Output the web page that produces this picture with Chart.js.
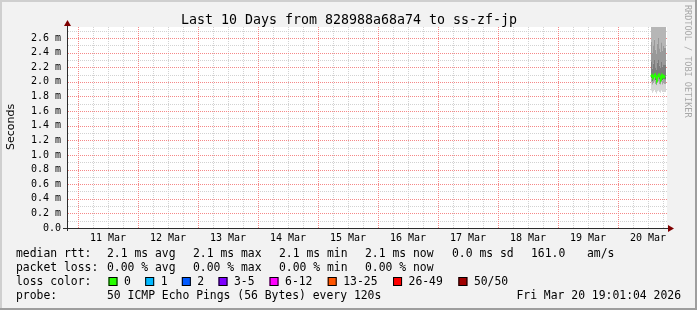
<!DOCTYPE html>
<html>
<head>
<meta charset="utf-8">
<script src="https://cdn.jsdelivr.net/npm/chart.js@4.4.1/dist/chart.umd.min.js"></script>
<style>
  html, body { margin: 0; padding: 0; background: #f2f2f2; }
  canvas { display: block; }
</style>
</head>
<body>
<canvas id="smoke" width="697" height="310"></canvas>
<script>
// time axis: hours since 10 Mar 00:00
const sampleHours = [253.2, 253.6, 254.0, 254.4, 254.8, 255.2, 255.6, 256.0, 256.4, 256.8, 257.2, 257.6, 258.0, 258.4, 258.8, 259.2];

// ping distribution per column (ms)
const pingMin = [1.86, 1.88, 1.85, 1.87, 1.89, 1.86, 1.84, 1.87, 1.88, 1.86, 1.85, 1.88, 1.86, 1.87, 1.86, 1.86];
const ping10  = [1.97, 1.99, 1.96, 1.98, 2.00, 1.97, 1.95, 1.98, 2.00, 1.97, 1.96, 1.99, 1.96, 1.98, 1.97, 1.97];
const ping25  = [2.03, 2.05, 2.01, 2.04, 2.06, 2.02, 2.00, 2.04, 2.06, 2.03, 2.01, 2.05, 2.02, 2.04, 2.03, 2.03];
const median  = [2.07, 2.09, 2.05, 2.08, 2.10, 2.06, 2.04, 2.08, 2.10, 2.07, 2.05, 2.09, 2.06, 2.08, 2.07, 2.07];
const ping75  = [2.22, 2.28, 2.18, 2.25, 2.30, 2.20, 2.16, 2.26, 2.31, 2.22, 2.19, 2.27, 2.21, 2.24, 2.23, 2.23];
const ping90  = [2.45, 2.55, 2.40, 2.50, 2.58, 2.44, 2.38, 2.52, 2.60, 2.46, 2.41, 2.54, 2.43, 2.49, 2.47, 2.47];
const pingMax = [3.20, 3.40, 3.10, 3.30, 3.50, 3.20, 3.00, 3.30, 3.60, 3.20, 3.10, 3.40, 3.20, 3.30, 3.20, 3.20];

const dayLabels = ['11 Mar', '12 Mar', '13 Mar', '14 Mar', '15 Mar', '16 Mar', '17 Mar', '18 Mar', '19 Mar', '20 Mar'];
const yTickLabels = ['0.0', '0.2 m', '0.4 m', '0.6 m', '0.8 m', '1.0 m', '1.2 m', '1.4 m', '1.6 m', '1.8 m', '2.0 m', '2.2 m', '2.4 m', '2.6 m'];

const lossLabels = ['0', '1', '2', '3-5', '6-12', '13-25', '26-49', '50/50'];
const lossColors = ['#26ff00', '#00b8ff', '#0059ff', '#7e00ff', '#ff00ff', '#ff5500', '#ff0000', '#a10000'];

const titleText = 'Last 10 Days from 828988a68a74 to ss-zf-jp';
const dateText = 'Fri Mar 20 19:01:04 2026';

const MONO = '"DejaVu Sans Mono", monospace';
const MAJOR = '#f58888';
const MINOR = '#d2d2d2';

const pts = arr => arr.map((v, i) => ({ x: sampleHours[i], y: v }));

function band(arr, color) {
    return {
        data: pts(arr),
        borderWidth: 0,
        pointRadius: 0,
        stepped: 'after',
        fill: '-1',
        backgroundColor: color
    };
}

// first dataset is painted on top, so the median line goes first
const datasets = [
    { data: pts(median), borderColor: '#26ff00', borderWidth: 2, pointRadius: 0, fill: false },
    { data: pts(pingMin), borderWidth: 0, pointRadius: 0, stepped: 'after', fill: false },
    band(ping10, '#d6d6d6'),
    band(ping25, '#a4a4a4'),
    band(median, '#6c6c6c'),
    band(ping75, '#7c7c7c'),
    band(ping90, '#999999'),
    band(pingMax, '#b6b6b6')
];

// dotted rrdtool style grid, one pixel on / one off
function dottedGrid(c, chart) {
    const a = chart.chartArea;
    const xs = chart.scales.x, ys = chart.scales.y;
    const l = Math.round(a.left), r = Math.round(a.right);
    const t = Math.round(a.top), b = Math.round(a.bottom);
    const minorX = [], majorX = [];
    for (let h = 24; h <= 258; h += 6) {
        (h % 24 === 0 ? majorX : minorX).push(Math.round(xs.getPixelForValue(h)));
    }
    c.fillStyle = MINOR;
    minorX.forEach(x => { for (let y = t; y < b; y += 2) c.fillRect(x, y, 1, 1); });
    for (let i = 1; i <= 27; i += 2) {
        const y = Math.round(ys.getPixelForValue(i / 10));
        for (let x = l + 1; x < r; x += 2) c.fillRect(x, y, 1, 1);
    }
    c.fillStyle = MAJOR;
    for (let i = 2; i <= 26; i += 2) {
        const y = Math.round(ys.getPixelForValue(i / 10));
        for (let x = l + 1; x < r; x += 2) c.fillRect(x, y, 1, 1);
    }
    majorX.forEach(x => { for (let y = t; y < b; y += 2) c.fillRect(x, y, 1, 1); });
}

// frame, titles, legend, axes with arrows
const decor = {
    id: 'decor',
    beforeDraw(chart) {
        const c = chart.ctx;
        c.save();
        c.fillStyle = '#f2f2f2';
        c.fillRect(0, 0, 697, 310);
        c.fillStyle = '#cfcfcf';
        c.fillRect(0, 0, 697, 2);
        c.fillRect(0, 0, 2, 310);
        c.fillStyle = '#9e9e9e';
        c.fillRect(0, 308, 697, 2);
        c.fillRect(695, 0, 2, 310);
        const a = chart.chartArea;
        c.fillStyle = '#ffffff';
        c.fillRect(a.left, a.top, a.right - a.left, a.bottom - a.top);
        c.restore();
    },
    beforeDatasetsDraw(chart) {
        const c = chart.ctx;
        c.save();
        dottedGrid(c, chart);
        c.restore();
    },
    afterDatasetsDraw(chart) {
        const c = chart.ctx;
        const a = chart.chartArea;
        c.save();
        c.strokeStyle = '#2c2c2c';
        c.lineWidth = 1;
        c.beginPath();
        c.moveTo(63, a.bottom + 0.5);
        c.lineTo(a.right + 2, a.bottom + 0.5);
        c.moveTo(a.left + 0.5, a.bottom + 3);
        c.lineTo(a.left + 0.5, a.top - 2);
        c.stroke();
        c.fillStyle = '#7f0000';
        c.beginPath();
        c.moveTo(a.right + 1, a.bottom - 3);
        c.lineTo(a.right + 7, a.bottom + 0.5);
        c.lineTo(a.right + 1, a.bottom + 4);
        c.closePath();
        c.fill();
        c.beginPath();
        c.moveTo(a.left - 3, a.top - 1);
        c.lineTo(a.left + 0.5, a.top - 7);
        c.lineTo(a.left + 4, a.top - 1);
        c.closePath();
        c.fill();
        c.restore();
    },
    afterDraw(chart) {
        const c = chart.ctx;
        c.save();
        c.fillStyle = '#000';
        c.textBaseline = 'alphabetic';

        c.font = '13.3px ' + MONO;
        c.textAlign = 'center';
        c.fillText(titleText, 349, 24);

        c.save();
        c.translate(14, 127);
        c.rotate(-Math.PI / 2);
        c.font = '11px "DejaVu Sans", sans-serif';
        c.fillText('Seconds', 0, 0);
        c.restore();

        c.save();
        c.translate(685, 5);
        c.rotate(Math.PI / 2);
        c.textAlign = 'left';
        c.fillStyle = '#a8a8a8';
        c.font = '8.5px ' + MONO;
        c.fillText('RRDTOOL / TOBI OETIKER', 0, 0);
        c.restore();

        c.font = '11.4px ' + MONO;
        c.textAlign = 'left';
        const rows = [
            [257, [[16, 'median rtt:'], [107, '2.1 ms avg'], [193, '2.1 ms max'], [279, '2.1 ms min'],
                   [365, '2.1 ms now'], [452, '0.0 ms sd'], [531, '161.0'], [587, 'am/s']]],
            [271, [[16, 'packet loss:'], [107, '0.00 % avg'], [193, '0.00 % max'], [279, '0.00 % min'], [365, '0.00 % now']]],
            [285, [[16, 'loss color:']]],
            [299, [[16, 'probe:'], [107, '50 ICMP Echo Pings (56 Bytes) every 120s']]]
        ];
        rows.forEach(([y, parts]) => parts.forEach(([x, t]) => c.fillText(t, x, y)));

        let bx = 108.5;
        lossLabels.forEach((lab, i) => {
            c.fillStyle = lossColors[i];
            c.fillRect(bx, 277, 9, 9);
            c.strokeStyle = '#000';
            c.lineWidth = 1;
            c.strokeRect(bx + 0.5, 277.5, 8, 8);
            c.fillStyle = '#000';
            c.fillText(lab, bx + 15.5, 285);
            bx += 29.5 + lab.length * 7.17;
        });

        c.textAlign = 'right';
        c.fillText(dateText, 681, 299);
        c.restore();
    }
};

new Chart(document.getElementById('smoke'), {
    type: 'line',
    data: { datasets },
    options: {
        responsive: false,
        animation: false,
        devicePixelRatio: 1,
        layout: { padding: { top: 27, right: 30, left: 0, bottom: 0 } },
        plugins: { legend: { display: false }, tooltip: { enabled: false } },
        scales: {
            x: {
                type: 'linear',
                min: 19.6,
                max: 259.6,
                afterFit: s => { s.height = 82; },
                afterBuildTicks: s => {
                    s.ticks = dayLabels.map((d, i) => ({ value: 36 + i * 24 }));
                },
                ticks: {
                    autoSkip: false,
                    maxRotation: 0,
                    padding: 4,
                    color: '#000',
                    font: { family: MONO, size: 10 },
                    callback: (v, i) => dayLabels[i]
                },
                grid: { display: false, drawTicks: false },
                border: { display: false }
            },
            y: {
                min: 0,
                max: 2.75,
                afterFit: s => { s.width = 67; },
                afterBuildTicks: s => {
                    s.ticks = yTickLabels.map((d, i) => ({ value: i / 5 }));
                },
                ticks: {
                    autoSkip: false,
                    padding: 6,
                    color: '#000',
                    font: { family: MONO, size: 10 },
                    callback: (v, i) => yTickLabels[i]
                },
                grid: { display: false, drawTicks: false },
                border: { display: false }
            }
        }
    },
    plugins: [decor]
});
</script>
</body>
</html>
